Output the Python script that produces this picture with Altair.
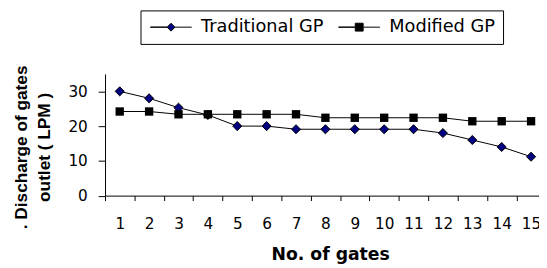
import altair as alt
import pandas as pd

gates = list(range(1, 16))
traditional = [30, 28, 25.3, 23.2, 20, 20, 19.1, 19.1, 19.1, 19.1, 19.1, 18, 16, 14, 11.2]
modified = [24.2, 24.2, 23.4, 23.4, 23.4, 23.4, 23.4, 22.4, 22.4, 22.4, 22.4, 22.4, 21.4, 21.4, 21.4]
series_names = ["Traditional GP", "Modified GP"]
y_ticks = [0, 10, 20, 30]

rows = []
for g, t, m in zip(gates, traditional, modified):
    rows.append({"gate": g, "series": "Traditional GP", "value": t})
    rows.append({"gate": g, "series": "Modified GP", "value": m})
df = pd.DataFrame(rows)

BAND = 29.83
FONT = "DejaVu Sans"
FONT_NARROW = "Liberation Sans"

x_scale = alt.Scale(domain=[0.5, 15.27], nice=False, zero=False)
y_scale = alt.Scale(domain=[0, 35], nice=False)

x_axis = alt.Axis(
    values=[g - 0.5 for g in gates],
    labelExpr="format(datum.value + 0.5, 'd')",
    labelOffset=BAND / 2,
    labelFlush=False,
    labelOverlap=False,
    labelBound=False,
    tickSize=5,
    labelPadding=16,
    labelFontSize=15.5,
    labelFont=FONT,
    grid=False,
    title="No. of gates",
    titleFont=FONT,
    titleFontSize=17.5,
    titleFontWeight="bold",
    titleX=228.5,
    titleY=65,
    titleBaseline="alphabetic",
    titleAlign="center",
)
y_axis = alt.Axis(
    values=y_ticks,
    tickSize=7,
    labelPadding=11,
    labelFontSize=15.5,
    labelFont=FONT,
    grid=False,
    title=[". Discharge of gates", "outlet ( LPM )"],
    titleFont=FONT_NARROW,
    titleFontSize=17.5,
    titleFontWeight="bold",
    titleAngle=270,
    titleX=-84.5,
    titleY=74,
    titleBaseline="middle",
    titleAlign="center",
    titleLineHeight=23,
)

x_enc = alt.X("gate:Q", scale=x_scale, axis=x_axis)
y_enc = alt.Y("value:Q", scale=y_scale, axis=y_axis)

base = alt.Chart(df)

lines = base.mark_line(color="black", strokeWidth=1).encode(
    x=x_enc, y=y_enc, detail="series:N"
)
pts_t = base.transform_filter(alt.datum.series == "Traditional GP").mark_point(
    shape="diamond", filled=True, fill="#000080", stroke="black",
    strokeWidth=1, size=85, opacity=1
).encode(x=x_enc, y=y_enc)
pts_m = base.transform_filter(alt.datum.series == "Modified GP").mark_point(
    shape="square", filled=True, color="black", size=72, opacity=1
).encode(x=x_enc, y=y_enc)

# legend glyphs: a line with the marker in its middle (path units, scaled by 7 px)
path_diamond = "M-1,0H1.43L2,-0.57L2.57,0L2,0.57L1.43,0Z M2.57,0H5"
path_square = "M-1,0H1.43V-0.57H2.57V0.57H1.43V0Z M2.57,0H5"

legend = alt.Legend(
    orient="none",
    legendX=36,
    legendY=-64.5,
    direction="horizontal",
    title=None,
    strokeColor="black",
    padding=8,
    symbolSize=196,
    symbolStrokeColor="black",
    symbolStrokeWidth=1,
    symbolOpacity=1,
    labelFontSize=18,
    labelFont=FONT,
    labelColor="black",
    labelOffset=35.5,
    columnPadding=13,
)

legend_layer = base.mark_point(opacity=0, filled=True, strokeWidth=1).encode(
    x=x_enc,
    y=y_enc,
    shape=alt.Shape("series:N", scale=alt.Scale(domain=series_names, range=[path_diamond, path_square]), legend=legend),
    fill=alt.Fill("series:N", scale=alt.Scale(domain=series_names, range=["#000080", "black"]), legend=legend),
    stroke=alt.Stroke("series:N", scale=alt.Scale(domain=series_names, range=["black", "black"]), legend=legend),
)

chart = alt.layer(lines, pts_t, pts_m, legend_layer).properties(
    width=440.5,
    height=123.5,
    padding={"left": 98.5, "top": 65, "right": 0, "bottom": 71.5},
    autosize=alt.AutoSizeParams(type="none"),
    background="white",
).configure_view(stroke=None).configure_axis(
    labelColor="black", titleColor="black",
    domainColor="black", tickColor="black", domainWidth=1, tickWidth=1,
)

chart.save("out.html", embed_options={"renderer": "svg", "actions": False})
